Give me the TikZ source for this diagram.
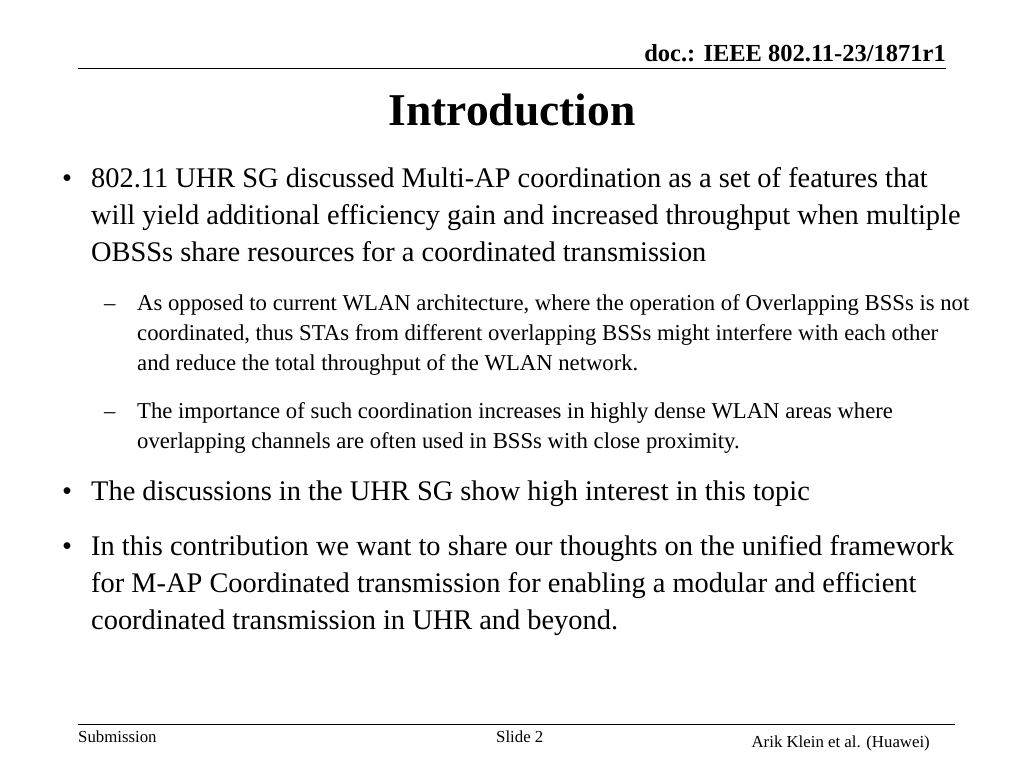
\documentclass[tikz,border=0pt]{standalone}
\usepackage{fontspec}
\setmainfont{Liberation Serif}
\tikzset{
 ln/.style={anchor=base west,inner sep=0pt,font=\fontsize{28.4}{28}\selectfont},
 sub/.style={anchor=base west,inner sep=0pt,font=\fontsize{22.7}{22}\selectfont},
 foot/.style={inner sep=0pt,font=\fontsize{16.8}{16}\selectfont},
}
\begin{document}
\begin{tikzpicture}[x=1pt,y=-1pt]
\useasboundingbox (0,0) rectangle (1024,768);
\node[anchor=base east,inner sep=0pt,font=\fontsize{24.5}{24}\selectfont\bfseries] (hd) at (946,62) {doc.: IEEE 802.11-23/1871r1};
\draw[line width=1pt] (78,68) coordinate (r1) -- (946,68) coordinate (r2);
\node[anchor=base,inner sep=0pt,font=\fontsize{45.5}{45}\selectfont\bfseries] (title) at (512,125) {Introduction};
\node[ln] (b1) at (62,187) {•};
\node[ln] (l1) at (91,187) {802.11 UHR SG discussed Multi-AP coordination as a set of features that};
\node[ln] (l2) at (91,224) {will yield additional efficiency gain and increased throughput when multiple};
\node[ln] (l3) at (91,261) {OBSSs share resources for a coordinated transmission};
\node[sub] (d1) at (104,310) {–};
\node[sub] (s1) at (137,310) {As opposed to current WLAN architecture, where the operation of Overlapping BSSs is not};
\node[sub] (s2) at (137,340) {coordinated, thus STAs from different overlapping BSSs might interfere with each other};
\node[sub] (s3) at (137,370) {and reduce the total throughput of the WLAN network.};
\node[sub] (d2) at (104,418) {–};
\node[sub] (s4) at (137,418) {The importance of such coordination increases in highly dense WLAN areas where};
\node[sub] (s5) at (137,448) {overlapping channels are often used in BSSs with close proximity.};
\node[ln] (b2) at (62,500) {•};
\node[ln] (l4) at (91,500) {The discussions in the UHR SG show high interest in this topic};
\node[ln] (b3) at (62,555) {•};
\node[ln] (l5) at (91,555) {In this contribution we want to share our thoughts on the unified framework};
\node[ln] (l6) at (91,592) {for M-AP Coordinated transmission for enabling a modular and efficient};
\node[ln] (l7) at (91,629) {coordinated transmission in UHR and beyond.};
\draw[line width=1pt] (78,724) coordinate (f1) -- (955,724) coordinate (f2);
\node[foot,anchor=base west] (sm) at (78,742) {Submission};
\node[foot,anchor=base west] (sl) at (496,742) {Slide 2};
\node[foot,anchor=base east] (au) at (930,747) {Arik Klein et al. (Huawei)};
\end{tikzpicture}
\end{document}
